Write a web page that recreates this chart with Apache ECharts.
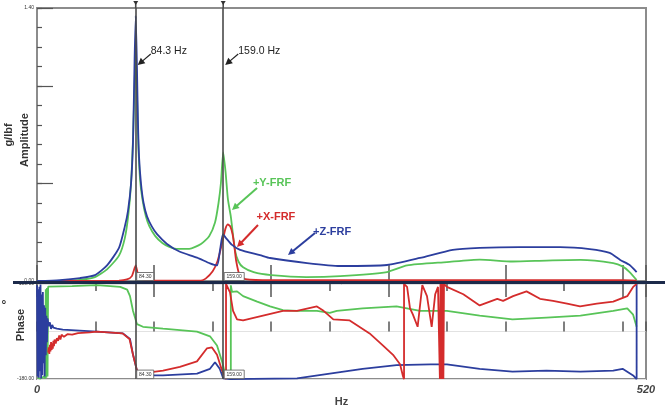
<!DOCTYPE html>
<html><head><meta charset="utf-8">
<script src="https://cdn.jsdelivr.net/npm/echarts@6/dist/echarts.min.js"></script>
<style>html,body{margin:0;padding:0;background:#fff}#c{width:665px;height:408px}</style>
</head><body><div id="c"></div>
<script>
// ---------- data ----------
const freqMax = 520;
const cursorsHz = [84.3, 159.0];
const cursorLabels = ['84.3 Hz', '159.0 Hz'];
const cursorBoxLabels = ['84.30', '159.00'];
const ampMax = 1.4;
const phaseMin = -180, phaseMax = 180;

// amplitude (g/lbf) : [Hz, value]
const ampZ = [[0,0],[19.6,0.005],[36.7,0.015],[49.5,0.03],[59.8,0.08],[70,0.17],[75,0.28],[77.7,0.36],[80.3,0.5],[82,0.72],[83.3,1.13],[84.3,1.36],[85.4,1.08],[86.2,0.82],[87.1,0.64],[88.8,0.5],[91,0.4],[94,0.33],[98,0.28],[102.5,0.24],[111,0.19],[122,0.15],[136.6,0.12],[147.7,0.09],[153.7,0.08],[156.3,0.16],[158.8,0.24],[161.4,0.22],[166.5,0.185],[173.4,0.16],[190.4,0.133],[199,0.118],[230.6,0.092],[258.8,0.077],[298.9,0.082],[327,0.118],[355,0.16],[378,0.17],[412,0.174],[446.6,0.174],[472,0.164],[489,0.144],[498,0.108],[506,0.082],[512,0.046]];
const ampY = [[0,0],[20,0.002],[36.7,0.006],[49.5,0.02],[59.8,0.06],[70,0.13],[75,0.22],[78,0.34],[80.3,0.5],[82,0.73],[83.3,1.0],[84.3,1.18],[85.4,0.95],[86.5,0.7],[88,0.52],[90,0.42],[93,0.33],[96,0.28],[101,0.23],[107,0.195],[113,0.175],[119,0.165],[130,0.165],[140,0.19],[147,0.23],[152,0.3],[155,0.4],[157,0.5],[159,0.66],[161,0.56],[163,0.42],[165.5,0.33],[169,0.16],[172,0.1],[176,0.07],[185,0.045],[200,0.03],[230,0.02],[258.8,0.025],[298.9,0.046],[316,0.08],[350,0.097],[378,0.11],[406,0.1],[435,0.105],[464,0.108],[492,0.092],[500,0.075],[506,0.046],[512,0.005]];
const ampX = [[0,0],[70,0.002],[76.8,0.008],[81,0.025],[84.3,0.08],[86,0.04],[88,0.015],[92,0.005],[100,0.002],[140,0.002],[144,0.012],[150,0.05],[154,0.1],[156.3,0.15],[159,0.22],[161,0.27],[163,0.29],[165,0.28],[167,0.24],[168.5,0.18],[170,0.105],[173,0.03],[178,0.01],[200,0.004],[500,0.004],[512,0.002]];

// phase (deg) : [Hz, value]
const phaseY = [[0.5,-175],[3,-178],[6,-170],[7,-178],[7.5,160],[8,-175],[8.5,165],[9,-170],[9.5,170],[11,169],[30,172],[51,176],[71,169],[77,159],[79.4,134],[82,78],[85.4,28],[90.5,18],[107.6,11],[136.6,0],[147.7,-18],[153.7,-53],[158,-113],[160.5,-159],[163,-175],[165.5,-180],[165.5,175],[166.5,150],[170.8,152],[176,134],[188,113],[199,95],[210,81],[222,78],[239,78],[250,71],[256,78],[278,88],[307,95],[327,78],[350,78],[378,60],[406,46],[435,53],[464,60],[492,78],[504,88],[509,64],[512,18]];
const phaseZ = [[0,175],[0.5,-170],[1,160],[1.5,-175],[2,170],[2.5,-150],[3,178],[3.5,-178],[4,140],[4.5,-165],[5,150],[5.5,-120],[6,100],[6.5,-170],[7,90],[7.5,-90],[8,60],[8.5,-40],[9,50],[10,20],[11,35],[12,10],[13,25],[14,15],[17,11],[22,7],[51,0],[73.4,-7],[79.4,-28],[82,-88],[85.4,-148],[88,-166],[107.6,-166],[136.6,-159],[147.7,-141],[152,-116],[156,-141],[159,-177],[165,-180],[222,-177],[250,-159],[278,-141],[307,-127],[336,-124],[350,-124],[378,-141],[406,-152],[435,-148],[464,-152],[492,-148],[500,-141],[509,-166],[512,-180],[512,180]];
const phaseX = [[9.5,-80],[10,-60],[10.5,-85],[11,-50],[11.5,-75],[12,-40],[12.5,-70],[13,-45],[13.5,-65],[14,-35],[14.5,-55],[15,-30],[16,-45],[17,-25],[18,-35],[19,-15],[20,-30],[21,-12],[23,-20],[26,-10],[30,-12],[35,-6],[45,-3],[51,0],[73,-7],[79,-28],[82,-88],[85.4,-148],[88,-159],[107.6,-148],[122,-134],[136.6,-113],[145,-64],[149.4,-60],[153.7,-88],[158,-148],[160.5,-169],[161.4,-180],[161.4,180],[164.8,148],[167.4,78],[170.8,46],[176,42],[193,60],[210,78],[222,78],[239,95],[244,81],[253,46],[267,42],[284,-7],[295.5,-53],[304,-88],[310,-124],[312.5,-169],[313.4,-180],[313.4,180],[316,169],[318.5,88],[321,64],[325,18],[329,176],[333,134],[337,18],[340,141],[342.4,169],[344,-180],[344.5,180],[345,-180],[345.5,180],[346,-180],[346.5,180],[347,-180],[347.5,180],[350,169],[364,141],[378,99],[393,124],[398,116],[406.5,134],[418,152],[429.5,124],[440.6,116],[452.6,106],[463.7,95],[478,106],[492,113],[504,134],[509,169],[512,180]];

// labels
const seriesNames = ['+Y-FRF', '+X-FRF', '+Z-FRF'];
const colors = {Y:'#58c458', X:'#d42c2c', Z:'#2c3e9e'};
// annotation anchor points in data coords [Hz, amplitude]: text centre, arrow tail, arrow tip
const frfAnno = [
  {name:'+Y-FRF', color:colors.Y, text:[200.7,0.503], tail:[187.9,0.477], tip:[166.5,0.364]},
  {name:'+X-FRF', color:colors.X, text:[204,0.328], tail:[188.7,0.287], tip:[170.8,0.174]},
  {name:'+Z-FRF', color:colors.Z, text:[252,0.251], tail:[237.4,0.246], tip:[214.3,0.133]}
];

// ---------- chart ----------
const chart = echarts.init(document.getElementById('c'), null, {renderer:'canvas'});
const tickCol = '#555';
const fmt2 = v => v.toFixed(2);

const lineS = (name, data, color, xi, yi, extra) => Object.assign({
  name, type:'line', data, xAxisIndex:xi, yAxisIndex:yi, showSymbol:false, symbol:'none',
  lineStyle:{color, width:1.8}, itemStyle:{color}, silent:true, animation:false
}, extra||{});

const cursorMark = {
  symbol:['none','none'], silent:true, animation:false,
  lineStyle:{color:'#4a4a4a', width:1.6, type:'solid'}, label:{show:false},
  data: cursorsHz.map(v => ({xAxis:v}))
};

chart.setOption({
  animation:false,
  backgroundColor:'#fff',
  grid:[
    {left:37, right:19, top:8, height:273, show:true, borderColor:'#8c8c8c', borderWidth:2},
    {left:37, right:19, top:284, height:102, show:true, borderColor:'#8c8c8c', borderWidth:2}
  ],
  xAxis:[
    {gridIndex:0, type:'value', min:0, max:freqMax, interval:100, axisLine:{show:false},
     axisTick:{inside:true, length:16, lineStyle:{color:tickCol, width:1.5}}, axisLabel:{show:false}, splitLine:{show:false}},
    {gridIndex:0, type:'value', min:0, max:freqMax, interval:50, axisLine:{show:false},
     axisTick:{inside:true, length:8, lineStyle:{color:tickCol, width:1.5}}, axisLabel:{show:false}, splitLine:{show:false}},
    {gridIndex:1, type:'value', min:0, max:freqMax, interval:50, position:'bottom', axisLine:{show:false},
     axisTick:{inside:true, length:10, lineStyle:{color:tickCol, width:1.5}},
     axisLabel:{showMinLabel:true, showMaxLabel:true, margin:5, fontSize:11, fontStyle:'italic', fontWeight:'bold', color:'#444', fontFamily:'Liberation Sans',
       formatter:v => (v===0 || v===freqMax) ? String(v) : ''},
     name:'Hz', nameLocation:'middle', nameGap:4, nameTextStyle:{fontSize:11, fontWeight:'bold', color:'#444', fontFamily:'Liberation Sans'},
     splitLine:{show:false}},
    {gridIndex:1, type:'value', min:0, max:freqMax, interval:100, position:'top', axisLine:{show:false},
     axisTick:{inside:true, length:13, lineStyle:{color:tickCol, width:1.5}}, axisLabel:{show:false}, splitLine:{show:false}},
    {gridIndex:1, type:'value', min:0, max:freqMax, interval:50, position:'top', axisLine:{show:false},
     axisTick:{inside:true, length:7, lineStyle:{color:tickCol, width:1.5}}, axisLabel:{show:false}, splitLine:{show:false}}
  ],
  yAxis:[
    {gridIndex:0, type:'value', min:0, max:ampMax, interval:0.1, axisLine:{show:false},
     axisTick:{inside:true, length:5, lineStyle:{color:tickCol, width:1.2}}, splitLine:{show:false},
     axisLabel:{showMinLabel:true, showMaxLabel:true, fontSize:5, color:'#333', margin:3, fontFamily:'Liberation Sans',
       formatter:v => (Math.abs(v)<1e-9 || Math.abs(v-ampMax)<1e-6) ? fmt2(v) : ''}},
    {gridIndex:0, type:'value', min:0, max:ampMax, interval:0.5, position:'left', axisLine:{show:false},
     axisTick:{inside:true, length:16, lineStyle:{color:tickCol, width:1.2}}, splitLine:{show:false}, axisLabel:{show:false}},
    {gridIndex:1, type:'value', min:phaseMin, max:phaseMax, interval:180, axisLine:{show:false}, axisTick:{show:false},
     splitLine:{show:true, lineStyle:{color:'#e2e2e2', width:1}},
     axisLabel:{showMinLabel:true, showMaxLabel:true, fontSize:5, color:'#333', margin:3, fontFamily:'Liberation Sans',
       formatter:v => v===0 ? '' : fmt2(v)}}
  ],
  series:[
    lineS(seriesNames[0], ampY, colors.Y, 0, 0, {smooth:0.2}),
    lineS(seriesNames[1], ampX, colors.X, 0, 0, {smooth:0.2}),
    lineS(seriesNames[2], ampZ, colors.Z, 0, 0, {smooth:0.2, markLine:cursorMark}),
    lineS(seriesNames[0]+' phase', phaseY, colors.Y, 2, 2),
    lineS(seriesNames[2]+' phase', phaseZ, colors.Z, 2, 2, {markLine:cursorMark}),
    lineS(seriesNames[1]+' phase', phaseX, colors.X, 2, 2)
  ]
});

// ---------- annotations (positions derived from the axes) ----------
function px(f, v, grid){ return chart.convertToPixel({xAxisIndex: grid===1?2:0, yAxisIndex: grid===1?2:0}, [f, v]); }
function arrow(x1,y1,x2,y2,color,w){
  const a = Math.atan2(y2-y1, x2-x1), L = 7, W = 3.5, c = Math.cos(a), s = Math.sin(a);
  return [
    {type:'line', z:50, shape:{x1, y1, x2:x2-L*0.7*c, y2:y2-L*0.7*s}, style:{stroke:color, lineWidth:w}},
    {type:'polygon', z:50, shape:{points:[[x2,y2],[x2-L*c+W*s, y2-L*s-W*c],[x2-L*c-W*s, y2-L*s+W*c]]}, style:{fill:color}}
  ];
}
const g = [];
const topGridTop = px(0, ampMax, 0)[1], topGridBot = px(0, 0, 0)[1];
const botGridBot = px(0, phaseMin, 1)[1];
// separator line
g.push({type:'line', z:60, shape:{x1:13, y1:topGridBot+1.5, x2:665, y2:topGridBot+1.5}, style:{stroke:'#1c2a4a', lineWidth:3}});
// axis titles
g.push({type:'text', z:50, x:9, y:135, rotation:Math.PI/2, style:{text:'g/lbf', font:'bold 11px "Liberation Sans"', fill:'#333', align:'center', verticalAlign:'middle'}});
g.push({type:'text', z:50, x:25, y:140, rotation:Math.PI/2, style:{text:'Amplitude', font:'bold 11px "Liberation Sans"', fill:'#333', align:'center', verticalAlign:'middle'}});
g.push({type:'text', z:50, x:21, y:325, rotation:Math.PI/2, style:{text:'Phase', font:'bold 11px "Liberation Sans"', fill:'#333', align:'center', verticalAlign:'middle'}});
g.push({type:'text', z:50, x:4, y:306, style:{text:'°', font:'bold 12px "Liberation Sans"', fill:'#333', align:'center', verticalAlign:'middle'}});
// cursors: top marker, label, arrow, value boxes
cursorsHz.forEach((hz, i) => {
  const cx = px(hz, 0, 0)[0];
  g.push({type:'line', z:40, shape:{x1:cx, y1:2, x2:cx, y2:topGridTop}, style:{stroke:'#4a4a4a', lineWidth:1.6}});
  g.push({type:'polygon', z:40, shape:{points:[[cx-2.5,1],[cx+2.5,1],[cx,5]]}, style:{fill:'#333'}});
  g.push({type:'text', z:50, x:cx+15, y:51, style:{text:cursorLabels[i], font:'10.5px "Liberation Sans"', fill:'#222', align:'left', verticalAlign:'middle'}});
  g.push(...arrow(cx+15, 54, cx+2, 65, '#222', 1.2));
  [[topGridBot-8.5, topGridBot-0.5],[botGridBot-9, botGridBot-0.5]].forEach(([y0,y1]) => {
    const w = i===0 ? 17 : 20;
    g.push({type:'rect', z:45, shape:{x:cx+1, y:y0, width:w, height:y1-y0}, style:{fill:'#fff', stroke:'#555', lineWidth:0.8}});
    g.push({type:'text', z:46, x:cx+1+w/2, y:(y0+y1)/2, style:{text:cursorBoxLabels[i], font:'5px "Liberation Sans"', fill:'#333', align:'center', verticalAlign:'middle'}});
  });
});
// FRF labels with arrows
frfAnno.forEach(a => {
  const t = px(a.text[0], a.text[1], 0), tl = px(a.tail[0], a.tail[1], 0), tp = px(a.tip[0], a.tip[1], 0);
  g.push({type:'text', z:50, x:t[0], y:t[1], style:{text:a.name, font:'bold 11px "Liberation Sans"', fill:a.color, align:'center', verticalAlign:'middle'}});
  g.push(...arrow(tl[0], tl[1], tp[0], tp[1], a.color, 2));
});
chart.setOption({graphic:g});
</script></body></html>
